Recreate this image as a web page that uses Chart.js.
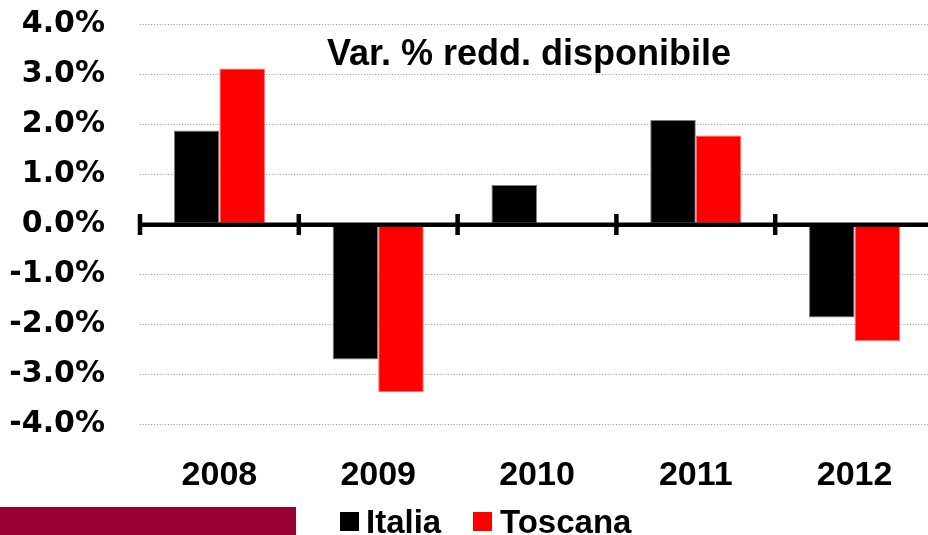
<!DOCTYPE html>
<html>
<head>
<meta charset="utf-8">
<script src="https://cdn.jsdelivr.net/npm/chart.js@4/dist/chart.umd.min.js"></script>
<style>
  html, body { margin:0; padding:0; background:#fff; overflow:hidden; width:928px; height:535px; }
  #wrap { position:relative; width:940px; height:535px; }
  canvas { position:absolute; left:0; top:0; }
  #title { position:absolute; left:229px; top:35px; width:600px; text-align:center;
           font-family:"Liberation Sans", Arial, sans-serif; font-weight:bold; font-size:36px; line-height:36px; color:#000; }
  #band { position:absolute; left:0; top:507px; width:296px; height:40px; background:#990033; }
  .leg { position:absolute; top:504px; font-family:"Liberation Sans", Arial, sans-serif; font-weight:bold;
         font-size:33px; line-height:36px; color:#000; white-space:nowrap; }
  .sw { position:absolute; top:512px; width:19px; height:19px; }
</style>
</head>
<body>
<div id="wrap">
  <canvas id="c" width="940" height="535"></canvas>
  <div id="title">Var. % redd. disponibile</div>
  <div id="band"></div>
  <div class="sw" id="sw0"></div><div class="leg" id="lg0"></div>
  <div class="sw" id="sw1"></div><div class="leg" id="lg1"></div>
</div>
<script>
const categories = ["2008", "2009", "2010", "2011", "2012"];
const seriesNames = ["Italia", "Toscana"];
const italia  = [1.87, -2.71, 0.78, 2.08, -1.87];
const toscana = [3.11, -3.36, null, 1.77, -2.34];
const yTicks = [-4, -3, -2, -1, 0, 1, 2, 3, 4];
const colors = ["#000000", "#ff0000"];
const borders = ["#808080", "#ff7070"];

// HTML legend from the series arrays
[[340, 366], [473, 500]].forEach((p, i) => {
  const sw = document.getElementById('sw' + i);
  sw.style.left = p[0] + 'px'; sw.style.background = colors[i];
  const lg = document.getElementById('lg' + i);
  lg.style.left = p[1] + 'px'; lg.textContent = seriesNames[i];
});

const zeroLine = {
  id: 'zeroLine',
  afterDatasetsDraw(chart) {
    const {ctx, chartArea, scales} = chart;
    const x = scales.x, y = scales.y;
    const y0 = y.getPixelForValue(0);
    const half = (x.getPixelForValue(1) - x.getPixelForValue(0)) / 2;
    ctx.save();
    ctx.strokeStyle = '#000';
    ctx.lineWidth = 4.5;
    ctx.beginPath();
    ctx.moveTo(chartArea.left, y0 + 0.8);
    ctx.lineTo(chartArea.right, y0 + 0.8);
    ctx.stroke();
    ctx.lineWidth = 4.5;
    for (let i = 0; i <= categories.length; i++) {
      const bx = x.getPixelForValue(i) - half;
      ctx.beginPath();
      ctx.moveTo(bx, y0 - 10);
      ctx.lineTo(bx, y0 + 11);
      ctx.stroke();
    }
    ctx.restore();
  }
};

new Chart(document.getElementById('c'), {
  type: 'bar',
  data: {
    labels: categories,
    datasets: [
      { label: seriesNames[0], data: italia, backgroundColor: colors[0], borderColor: borders[0], borderWidth: 1, borderSkipped: false },
      { label: seriesNames[1], data: toscana, backgroundColor: colors[1], borderColor: borders[1], borderWidth: 1, borderSkipped: false }
    ]
  },
  options: {
    responsive: false,
    animation: false,
    devicePixelRatio: 1,
    layout: { padding: { top: 24, left: 0, right: 6, bottom: 0 } },
    plugins: { legend: { display: false }, tooltip: { enabled: false }, title: { display: false } },
    datasets: { bar: { categoryPercentage: 0.574, barPercentage: 1.0 } },
    scales: {
      x: {
        grid: { display: false, drawTicks: false },
        border: { display: false },
        ticks: { color: '#000', padding: 31, font: { family: '"Liberation Sans", Arial, sans-serif', weight: 'bold', size: 34 } },
        afterFit(s) { s.height = 111; s.paddingLeft = 0; s.paddingRight = 0; }
      },
      y: {
        min: -4, max: 4,
        afterBuildTicks(s) { s.ticks = yTicks.map(v => ({ value: v })); },
        grid: {
          drawTicks: false,
          color: (c) => c.tick && c.tick.value === 0 ? 'rgba(0,0,0,0)' : '#959595',
          lineWidth: 1
        },
        border: { display: false, dash: [1, 1.8] },
        ticks: {
          color: '#000', padding: 35,
          font: { family: '"DejaVu Sans", sans-serif', weight: 'bold', size: 30 },
          callback: (v) => Number(v).toFixed(1) + '%'
        },
        afterFit(s) { s.width = 140; s.paddingTop = 0; s.paddingBottom = 0; }
      }
    }
  },
  plugins: [zeroLine]
});
</script>
</body>
</html>
